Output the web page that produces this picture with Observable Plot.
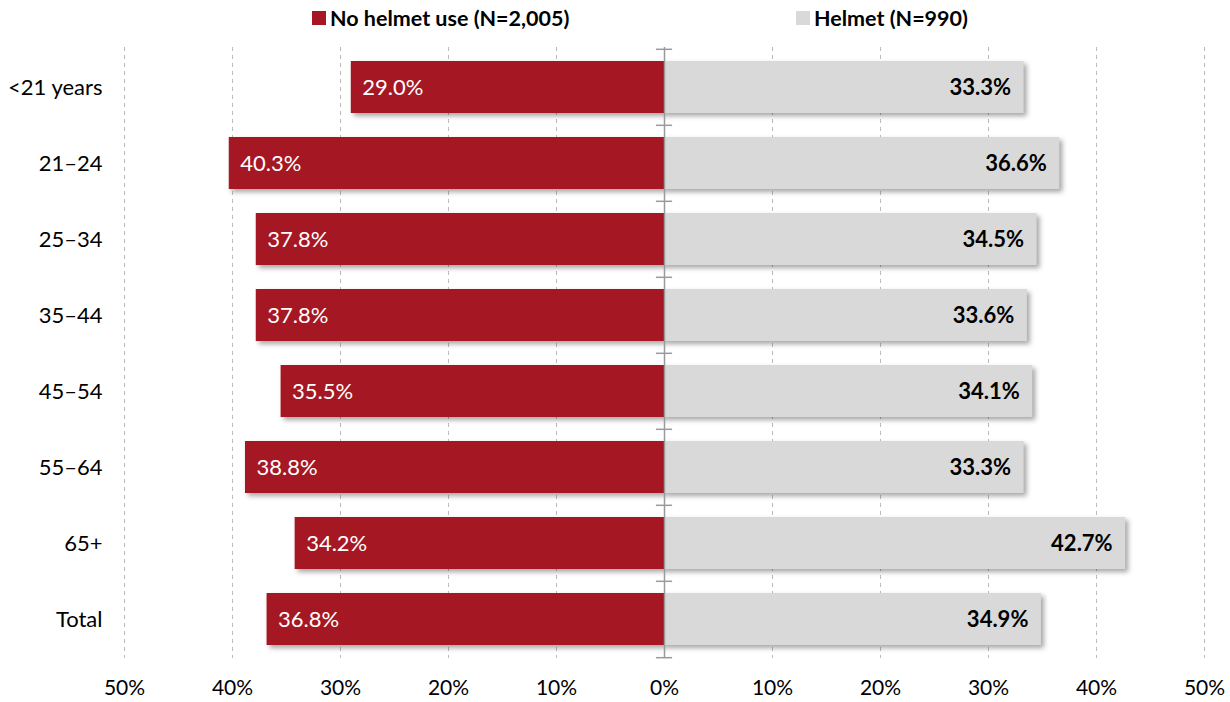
<!DOCTYPE html>
<html>
<head>
<meta charset="utf-8">
<script src="https://cdn.jsdelivr.net/npm/d3@7"></script>
<script src="https://cdn.jsdelivr.net/npm/@observablehq/plot@0.6"></script>
<style>
  body { margin: 0; background: #fff; font-family: Lato, "Open Sans", sans-serif; }
  #wrap { width: 1230px; }
  #legend { position: relative; height: 40px; font-family: Lato, sans-serif; font-weight: bold; font-size: 21.5px; color: #000; }
  .item { position: absolute; top: 5px; display: flex; align-items: center; white-space: nowrap; }
  .sw { width: 14px; height: 14px; margin-right: 4px; display: inline-block; }
  svg g[aria-label="bar"] rect { filter: drop-shadow(3px 3px 2.5px rgba(0,0,0,0.35)); }
</style>
</head>
<body>
<div id="wrap">
  <div id="legend"></div>
  <div id="chart"></div>
</div>
<script>
const categories = ["<21 years", "21–24", "25–34", "35–44", "45–54", "55–64", "65+", "Total"];
const noHelmet = [29.0, 40.3, 37.8, 37.8, 35.5, 38.8, 34.2, 36.8];
const helmet = [33.3, 36.6, 34.5, 33.6, 34.1, 33.3, 42.7, 34.9];
const seriesNames = ["No helmet use (N=2,005)", "Helmet (N=990)"];
const colors = ["#A51722", "#D9D9D9"];
const xTicks = [-50, -40, -30, -20, -10, 0, 10, 20, 30, 40, 50];

const left = categories.map((c, i) => ({cat: c, v: noHelmet[i]}));
const right = categories.map((c, i) => ({cat: c, v: helmet[i]}));

// legend
const legend = document.getElementById("legend");
const legendLeft = [312, 796];
seriesNames.forEach((name, i) => {
  const d = document.createElement("div");
  d.className = "item";
  d.style.left = legendLeft[i] + "px";
  d.innerHTML = `<span class="sw" style="background:${colors[i]}"></span><span>${name}</span>`;
  legend.appendChild(d);
});

const W = 1230, H = 662, mTop = 7, mBottom = 44;
const step = (H - mTop - mBottom) / categories.length;

const chart = Plot.plot({
  width: W,
  height: H,
  marginLeft: 124,
  marginRight: 26,
  marginTop: mTop,
  marginBottom: mBottom,
  style: {fontFamily: "Lato, sans-serif", fontSize: "21px", color: "#000", background: "#fff", overflow: "visible"},
  x: {domain: [-50, 50], label: null},
  y: {domain: categories, paddingInner: 0.32, paddingOuter: 0.16, label: null},
  marks: [
    Plot.ruleX(xTicks.filter(d => d !== 0), {stroke: "#bdbdbd", strokeWidth: 1, strokeDasharray: "4,4"}),
    Plot.barX(left, {x1: 0, x2: d => -d.v, y: "cat", fill: colors[0]}),
    Plot.barX(right, {x1: 0, x2: "v", y: "cat", fill: colors[1]}),
    Plot.ruleX([0], {stroke: "#9a9a9a", strokeWidth: 1.5}),
    Plot.ruleY(categories, {y: d => d, x1: -0.75, x2: 0.75, dy: -step / 2, stroke: "#9a9a9a", strokeWidth: 1.5}),
    Plot.ruleY([categories[categories.length - 1]], {y: d => d, x1: -0.75, x2: 0.75, dy: step / 2, stroke: "#9a9a9a", strokeWidth: 1.5}),
    Plot.text(left, {x: d => -d.v, y: "cat", text: d => d.v.toFixed(1) + "%", textAnchor: "start", dx: 11, fill: "#fff", fontSize: 22}),
    Plot.text(right, {x: "v", y: "cat", text: d => d.v.toFixed(1) + "%", textAnchor: "end", dx: -13, fill: "#000", fontWeight: "bold", fontSize: 22}),
    Plot.axisX({ticks: xTicks, tickFormat: d => Math.abs(d) + "%", tickSize: 0, tickPadding: 22, fontSize: 21, label: null}),
    Plot.axisY({tickSize: 0, tickPadding: 22, fontSize: 22, label: null})
  ]
});
document.getElementById("chart").appendChild(chart);
</script>
</body>
</html>
